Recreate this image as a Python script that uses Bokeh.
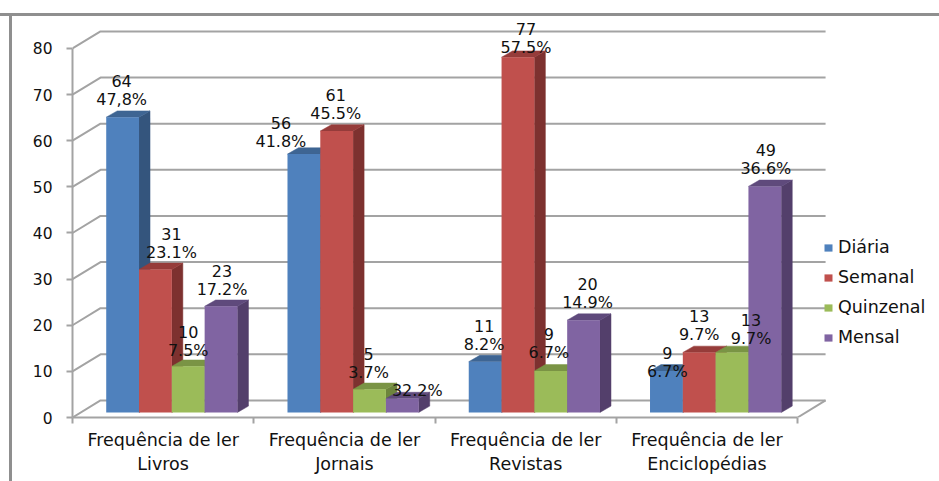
from bokeh.plotting import figure
from bokeh.models import Range1d, FixedTicker, ColumnDataSource
from bokeh.core.properties import value
from bokeh.embed import file_html
from bokeh.resources import INLINE

categories = ["Frequência de ler\nLivros", "Frequência de ler\nJornais",
              "Frequência de ler\nRevistas", "Frequência de ler\nEnciclopédias"]
series_names = ["Diária", "Semanal", "Quinzenal", "Mensal"]
diaria = [64, 56, 11, 9]
semanal = [31, 61, 77, 13]
quinzenal = [10, 5, 9, 13]
mensal = [23, 3, 20, 49]
diaria_pct = ["47,8%", "41.8%", "8.2%", "6.7%"]
semanal_pct = ["23.1%", "45.5%", "57.5%", "9.7%"]
quinzenal_pct = ["7.5%", "3.7%", "6.7%", "9.7%"]
mensal_pct = ["17.2%", "32.2%", "14.9%", "36.6%"]
y_ticks = [0, 10, 20, 30, 40, 50, 60, 70, 80]

# styling / placement (kept apart from the data)
FONT = "DejaVu Sans"
front = ["#4f81bd", "#c0504d", "#9bbb59", "#8064a2"]
side = ["#34557d", "#7d312f", "#6d853c", "#533f6b"]
roof = ["#3e6593", "#963c3a", "#7a9445", "#5f4a7c"]
GRID = "#a3a3a3"
WALL_DX, WALL_DY = 0.1545, 3.69      # back-wall offset, data units
BAR_DX, BAR_DY = 0.0607, 1.37        # bar depth, data units
BASE = 1.1                           # bars stand a little back on the floor
START, WIDTH = 0.186, 0.181
# label offsets from the bar's front top centre, px (x right, y down)
label_dx = [[-1, -23, -1, 1], [16, -1, 8, 0], [0, -1, -2, 19], [1, 15, 4, 1]]
label_dy = [[-18, -13, -17, 1], [-17, -18, -10, -18], [-16, -17, -18, -14], [-17, -8, -18, -18]]
LINE_GAP = -18.5

data = [diaria, semanal, quinzenal, mensal]
pcts = [diaria_pct, semanal_pct, quinzenal_pct, mensal_pct]

p = figure(width=939, height=481, output_backend="svg", toolbar_location=None,
           x_range=Range1d(0, 4.783), y_range=Range1d(0, 86.5),
           min_border_left=72, min_border_right=0, min_border_top=18, min_border_bottom=64)
p.outline_line_color = None
p.grid.visible = False
p.background_fill_color = None
p.border_fill_color = None

# picture border (top and left edges), painted behind the transparent canvas
BORDER = "#8f8f8f"
p.styles = {
    "background": (
        f"linear-gradient({BORDER},{BORDER}) 0 13px / 100% 3px no-repeat,"
        f"linear-gradient({BORDER},{BORDER}) 9px 13px / 3px 100% no-repeat,"
        "#ffffff"
    )
}

# walls and floor
for t in y_ticks:
    p.line([0, WALL_DX, 4 + WALL_DX], [t, t + WALL_DY, t + WALL_DY], line_color=GRID, line_width=2)
p.line([4, 4 + WALL_DX], [0, WALL_DY], line_color=GRID, line_width=2)

# bars
for s, vals in enumerate(data):
    lefts = [i + START + s * WIDTH for i in range(len(vals))]
    rights = [l + WIDTH for l in lefts]
    tops = [BASE + v for v in vals]
    p.patches([[r, r + BAR_DX, r + BAR_DX, r] for r in rights],
              [[BASE, BASE + BAR_DY, t + BAR_DY, t] for t in tops],
              fill_color=side[s], line_color=side[s], line_width=0.5)
    p.patches([[l, l + BAR_DX, r + BAR_DX, r] for l, r in zip(lefts, rights)],
              [[t, t + BAR_DY, t + BAR_DY, t] for t in tops],
              fill_color=roof[s], line_color=roof[s], line_width=0.5)
    p.quad(left=lefts, right=rights, bottom=[BASE] * len(vals), top=tops,
           fill_color=front[s], line_color=None, legend_label=series_names[s])

# data labels
for s, vals in enumerate(data):
    xs = [i + START + (s + 0.5) * WIDTH for i in range(len(vals))]
    ys = [BASE + v for v in vals]
    # the reference shows the small value of the Jornais/Mensal bar merged into its percent text
    val_text = ["" if pcts[s][i] == "32.2%" else str(v) for i, v in enumerate(vals)]
    src = ColumnDataSource(dict(x=xs, y=ys, pct=pcts[s], val=val_text, dx=label_dx[s], dy=label_dy[s],
                                dy2=[d + LINE_GAP for d in label_dy[s]]))
    for col, off in (("pct", "dy"), ("val", "dy2")):
        p.text(x="x", y="y", text=col, source=src, x_offset="dx", y_offset=off,
               text_align="center", text_baseline="middle", text_color="#111111",
               text_font=value(FONT), text_font_size="16px")

# axes
xa = p.xaxis[0]
xa.ticker = FixedTicker(ticks=[i + 0.5 for i in range(4)], minor_ticks=list(range(5)))
xa.major_label_overrides = {i + 0.5: c for i, c in enumerate(categories)}
xa.bounds = (0, 4)
xa.major_tick_line_color = None
xa.major_tick_out = 0
xa.major_tick_in = 0
xa.minor_tick_in = 0
xa.minor_tick_out = 6
xa.minor_tick_line_color = GRID
xa.minor_tick_line_width = 2
xa.axis_line_color = GRID
xa.axis_line_width = 2
xa.major_label_standoff = 6
xa.major_label_text_font = FONT
xa.major_label_text_font_size = "17.5px"
xa.major_label_text_color = "#111111"

ya = p.yaxis[0]
ya.ticker = FixedTicker(ticks=y_ticks)
ya.bounds = (0, 80)
ya.major_tick_in = 0
ya.major_tick_out = 6
ya.major_tick_line_color = GRID
ya.major_tick_line_width = 2
ya.axis_line_color = GRID
ya.axis_line_width = 2
ya.major_label_standoff = 14
ya.major_label_text_font = FONT
ya.major_label_text_font_size = "15.5px"
ya.major_label_text_color = "#111111"

# legend
lg = p.legend[0]
lg.location = (751, 70)
lg.padding = 0
lg.margin = 0
lg.border_line_color = None
lg.background_fill_alpha = 0
lg.glyph_width = 10
lg.glyph_height = 9
lg.label_height = 20
lg.spacing = 10
lg.label_standoff = 5
lg.label_text_font = FONT
lg.label_text_font_size = "17.5px"
lg.label_text_color = "#111111"

open("out.html", "w").write(file_html(p, INLINE))
